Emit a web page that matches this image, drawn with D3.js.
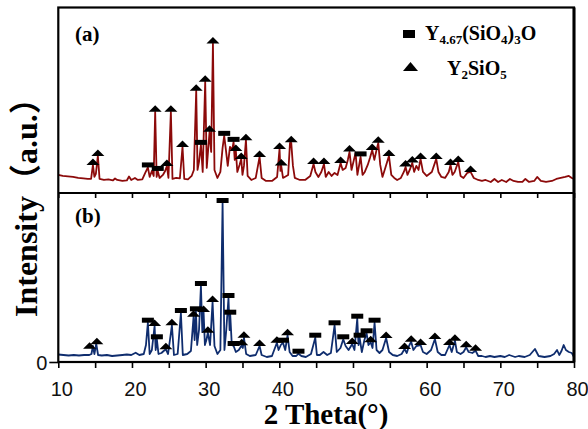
<!DOCTYPE html>
<html>
<head>
<meta charset="utf-8">
<script src="https://cdn.jsdelivr.net/npm/d3@7"></script>
<style>
  html, body { margin: 0; padding: 0; background: #fff; }
  svg { display: block; }
</style>
</head>
<body>
<svg id="chart" width="588" height="429"></svg>
<script>
// ---- Diffraction pattern (a): 2θ in degrees, intensity in counts ----
const thetaA = [10.0,10.6,11.3,12.0,12.7,13.4,14.0,14.45,14.7,14.9,15.1,15.37,15.6,16.2,16.8,17.4,17.7,18.0,18.7,19.3,19.6,19.9,20.4,20.8,21.4,21.8,22.16,22.4,22.7,22.95,23.15,23.35,23.5,23.75,24.2,24.5,24.74,24.95,25.28,25.5,26.0,26.5,26.86,27.1,27.6,28.1,28.4,28.72,28.9,29.1,29.36,29.6,29.94,30.15,30.53,30.75,30.99,31.2,31.6,32.0,32.3,32.52,32.75,33.0,33.3,33.6,33.79,33.95,34.1,34.3,34.6,34.83,35.0,35.2,35.47,35.7,36.2,36.8,37.32,37.6,38.2,39.0,39.7,40.03,40.15,40.26,40.5,41.2,41.45,41.62,41.85,42.1,42.8,43.5,44.2,44.65,44.9,45.3,45.7,46.06,46.3,46.7,47.1,47.5,47.9,48.32,48.6,49.0,49.3,49.53,49.8,50.35,50.6,51.03,51.3,51.6,52.0,52.3,52.61,52.9,53.2,53.43,53.7,54.0,54.3,54.88,55.2,55.6,56.0,56.5,56.9,57.14,57.4,57.7,58.05,58.3,58.6,58.9,59.17,59.5,60.0,60.7,61.3,61.6,62.0,62.5,63.0,63.24,63.5,63.8,64.29,64.6,65.0,65.5,65.96,66.4,67.0,67.5,68.0,68.7,69.2,69.7,70.2,70.8,71.3,71.8,72.4,73.0,73.4,73.9,74.6,75.0,75.5,76.2,77.0,77.6,78.2,78.8,79.3,79.7,80.0];
const countsA = [180,170,165,160,150,145,140,140,280,160,190,370,140,130,135,125,145,130,120,125,165,130,150,130,135,200,255,160,220,170,810,160,220,150,180,220,270,150,810,140,150,145,460,140,135,170,230,1020,230,310,480,210,1110,250,610,410,1490,230,150,210,450,570,430,270,460,430,510,330,420,210,280,340,180,270,530,170,130,150,360,150,120,120,160,440,220,270,150,180,500,500,270,150,130,130,170,290,210,160,210,290,160,210,170,200,180,300,230,250,330,410,230,400,180,360,180,210,280,350,430,330,430,500,280,160,230,370,180,150,130,150,210,260,180,230,300,210,270,230,340,210,170,210,340,210,160,150,210,280,180,210,310,170,150,200,210,150,130,120,130,110,140,110,130,110,140,120,110,110,140,110,120,160,120,110,120,140,150,160,170,150,140];

// Phase reflections indexed on pattern (a): s = Y4.67(SiO4)3O, t = Y2SiO5
const markThetaA = [14.70,15.37,22.16,23.15,23.5,24.74,25.28,26.86,28.72,29.36,29.94,30.53,30.99,32.52,33.79,34.1,34.83,35.47,37.32,40.03,40.26,41.62,44.65,46.06,48.32,49.53,51.03,52.61,53.43,54.88,57.14,58.05,59.17,61.3,63.24,64.29,65.96];
const markCountA = [280,370,255,810,220,270,810,460,1020,480,1110,610,1490,570,510,420,340,525,360,440,275,505,290,290,300,415,365,430,500,370,265,305,340,340,280,310,210];
const markPhaseA = ["t","t","s","t","s","t","t","t","t","s","t","t","t","s","s","t","t","t","t","t","t","t","t","t","t","t","s","t","t","t","t","t","t","t","t","t","t"];

// ---- Diffraction pattern (b) ----
const thetaB = [10.0,10.7,11.4,12.1,12.8,13.5,14.2,14.5,14.7,14.9,15.15,15.4,15.9,16.6,17.3,18.0,18.7,19.3,19.9,20.5,21.0,21.6,21.9,22.16,22.4,22.7,23.07,23.22,23.38,23.6,24.0,24.3,24.6,24.9,25.42,25.7,26.2,26.64,26.9,27.5,28.0,28.36,28.5,28.68,28.85,29.1,29.36,29.55,29.72,29.9,30.1,30.3,30.6,30.94,31.2,31.6,32.0,32.3,32.55,32.8,33.1,33.25,33.34,33.55,33.8,34.1,34.5,34.9,35.05,35.2,35.5,36.0,36.8,37.32,37.6,38.3,39.0,39.67,39.9,40.2,40.5,40.8,41.12,41.4,41.8,42.3,42.6,43.0,43.6,44.3,44.88,45.1,45.5,46.0,46.5,47.0,47.5,47.8,48.3,48.68,49.0,49.4,49.9,50.2,50.58,50.75,50.9,51.2,51.55,51.85,52.1,52.4,52.65,52.93,53.2,53.6,54.0,54.5,54.9,55.4,56.0,56.6,57.0,57.3,57.6,57.9,58.2,58.6,59.17,59.5,60.0,60.6,61.12,61.5,62.0,62.5,63.1,63.4,63.84,64.1,64.6,65.0,65.37,65.7,66.2,66.64,67.0,67.5,68.0,68.6,69.2,70.0,70.6,71.2,72.0,72.5,73.3,74.0,74.7,75.2,76.0,76.8,77.3,77.7,78.0,78.3,78.6,78.9,79.3,79.7,80.0];
const countsB = [75,70,65,70,65,70,70,80,160,80,183,70,65,70,60,65,70,75,70,93,70,80,170,393,80,120,360,120,227,80,90,110,127,80,367,70,80,490,70,80,110,453,220,507,170,320,760,300,500,170,220,293,170,600,160,80,120,1590,120,320,640,320,473,170,160,100,120,167,140,243,80,60,70,160,70,50,60,193,120,170,193,120,267,100,60,60,83,60,50,80,243,70,70,100,70,90,367,100,140,227,160,120,180,120,433,170,243,100,220,287,170,197,140,393,120,90,120,240,100,70,60,80,130,90,160,203,120,160,170,100,80,120,230,100,70,70,170,100,213,100,80,100,147,100,90,113,60,60,50,60,50,60,50,70,50,60,50,70,130,60,50,60,80,120,70,110,170,120,100,90,50];

const markThetaB = [14.24,15.24,22.16,23.07,23.38,24.6,25.42,26.64,28.36,28.68,29.36,29.72,30.3,30.94,32.3,33.1,33.34,33.8,34.9,35.2,37.32,39.67,40.5,41.12,42.6,44.88,47.5,48.68,49.9,50.58,50.9,51.85,52.4,52.93,54.5,57.0,57.9,59.17,61.12,63.1,63.84,65.37,66.64];
const markCountB = [133,177,393,360,227,127,367,490,453,507,760,500,293,600,1590,640,473,160,167,243,160,193,193,267,83,243,367,227,180,433,243,287,197,393,240,130,203,170,230,170,213,147,113];
const markPhaseB = ["t","t","s","t","s","t","t","s","t","s","s","t","t","t","s","s","s","s","t","t","t","t","s","t","s","s","s","s","t","s","s","s","t","s","t","t","t","t","t","t","t","t","t"];

const xTicks = [10,15,20,25,30,35,40,45,50,55,60,65,70,75,80];

// ---- Layout ----
const svg = d3.select("#chart");
const plotL = 58.3, plotR = 574, plotT = 7.5, plotMid = 193, plotB = 362;

const x = d3.scaleLinear().domain([10, 80]).range([plotL, plotR]);
const yA = d3.scaleLinear().domain([0, 1850]).range([plotMid, plotT]);
const yB = d3.scaleLinear().domain([0, 1690]).range([plotB, plotMid]);

const serif = "'Times New Roman', 'Liberation Serif', 'Noto Sans CJK SC', serif";
const sans = "Arial, 'Liberation Sans', sans-serif";

// Traces
const lineA = d3.line().x((d, i) => x(thetaA[i])).y(d => yA(d));
const lineB = d3.line().x((d, i) => x(thetaB[i])).y(d => yB(d));

svg.append("path").attr("d", lineA(countsA))
  .attr("fill", "none").attr("stroke", "#8c0a0a").attr("stroke-width", 1.8)
  .attr("stroke-linejoin", "round");
svg.append("path").attr("d", lineB(countsB))
  .attr("fill", "none").attr("stroke", "#0f2d6e").attr("stroke-width", 1.8)
  .attr("stroke-linejoin", "round");

// Phase markers: square = Y4.67(SiO4)3O, triangle = Y2SiO5
function drawMarkers(thetas, counts, phases, y) {
  const g = svg.append("g");
  thetas.forEach((t, i) => {
    const cx = x(t), by = y(counts[i]);
    if (phases[i] === "s") {
      g.append("rect").attr("x", cx - 6).attr("y", by - 5)
        .attr("width", 12).attr("height", 5).attr("fill", "#000");
    } else {
      g.append("path")
        .attr("d", `M${cx - 6.5},${by} L${cx + 6.5},${by} L${cx},${by - 6.5} Z`)
        .attr("fill", "#000");
    }
  });
}
drawMarkers(markThetaA, markCountA, markPhaseA, yA);
drawMarkers(markThetaB, markCountB, markPhaseB, yB);

// Frame
svg.append("rect").attr("x", plotL).attr("y", plotT)
  .attr("width", plotR - plotL).attr("height", plotB - plotT)
  .attr("fill", "none").attr("stroke", "#000").attr("stroke-width", 2.2);
svg.append("line").attr("x1", plotL).attr("x2", plotR).attr("y1", plotMid).attr("y2", plotMid)
  .attr("stroke", "#000").attr("stroke-width", 2.2);
svg.append("line").attr("x1", plotR).attr("x2", plotR).attr("y1", plotT).attr("y2", plotB)
  .attr("stroke", "#000").attr("stroke-width", 3);

// Bottom axis
const xAxis = svg.append("g").attr("transform", `translate(0,${plotB})`)
  .call(d3.axisBottom(x).tickValues(xTicks).tickSize(6).tickPadding(14)
    .tickFormat(d => d % 10 === 0 ? d : ""));
xAxis.select(".domain").remove();
xAxis.selectAll(".tick line").attr("stroke", "#000").attr("stroke-width", 1.6);
xAxis.selectAll("text").attr("font-family", sans).attr("font-size", 20)
  .attr("fill", "#111").attr("dx", 3);

// Inner ticks on the dividing line between the panels
const midAxis = svg.append("g").attr("transform", `translate(0,${plotMid})`)
  .call(d3.axisTop(x).tickValues(xTicks).tickSize(-5).tickFormat(""));
midAxis.select(".domain").remove();
midAxis.selectAll(".tick line").attr("stroke", "#000").attr("stroke-width", 1.6);

// Zero tick for panel (b)
const yAxisB = svg.append("g").attr("transform", `translate(${plotL},0)`)
  .call(d3.axisLeft(yB).tickValues([0]).tickSize(9).tickPadding(2));
yAxisB.select(".domain").remove();
yAxisB.selectAll(".tick line").attr("stroke", "#000").attr("stroke-width", 1.6);
yAxisB.selectAll("text").attr("font-family", sans).attr("font-size", 20).attr("fill", "#111")
  .attr("dy", "0.36em");

// Panel labels
svg.append("text").attr("x", 75).attr("y", 41).text("(a)")
  .attr("font-family", serif).attr("font-weight", "bold").attr("font-size", 21);
svg.append("text").attr("x", 75).attr("y", 223).text("(b)")
  .attr("font-family", serif).attr("font-weight", "bold").attr("font-size", 21);

// Axis titles
svg.append("text").attr("x", 326).attr("y", 424).attr("text-anchor", "middle")
  .attr("font-family", serif).attr("font-weight", "bold").attr("font-size", 29)
  .text("2 Theta(°)");
svg.append("text").attr("transform", "translate(37,317) rotate(-90)")
  .attr("font-family", serif).attr("font-weight", "bold").attr("font-size", 32)
  .text("Intensity（a.u.）");

// Legend
const leg = svg.append("g").attr("font-family", serif).attr("font-weight", "bold");
leg.append("rect").attr("x", 403).attr("y", 30).attr("width", 12).attr("height", 8).attr("fill", "#000");
leg.append("path").attr("d", "M403,71 L418,71 L410.5,62 Z").attr("fill", "#000");

const t1 = leg.append("text").attr("x", 425).attr("y", 40).attr("font-size", 20);
t1.append("tspan").text("Y");
t1.append("tspan").attr("font-size", 13).attr("dy", 4).text("4.67");
t1.append("tspan").attr("dy", -4).text("(SiO");
t1.append("tspan").attr("font-size", 13).attr("dy", 4).text("4");
t1.append("tspan").attr("dy", -4).text(")");
t1.append("tspan").attr("font-size", 13).attr("dy", 4).text("3");
t1.append("tspan").attr("dy", -4).text("O");

const t2 = leg.append("text").attr("x", 447).attr("y", 75).attr("font-size", 20);
t2.append("tspan").text("Y");
t2.append("tspan").attr("font-size", 13).attr("dy", 4).text("2");
t2.append("tspan").attr("dy", -4).text("SiO");
t2.append("tspan").attr("font-size", 13).attr("dy", 4).text("5");
</script>
</body>
</html>
